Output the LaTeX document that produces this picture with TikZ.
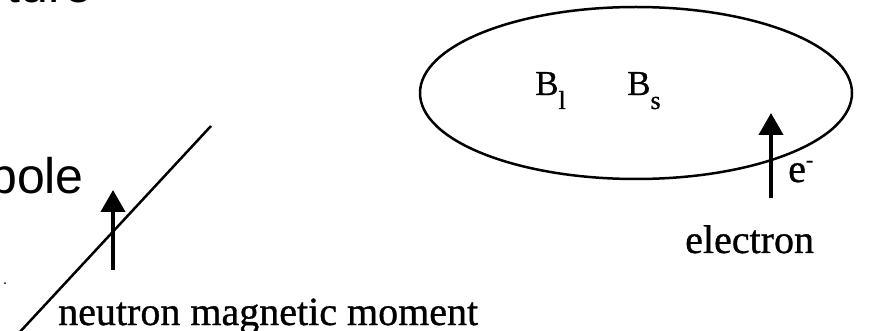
\documentclass[tikz,border=0pt]{standalone}
\usepackage{fontspec}
\setmainfont{Liberation Serif}[FakeBold=0.8]
\newfontfamily\arialf{Liberation Sans}
\usetikzlibrary{arrows.meta,shapes.geometric}
\begin{document}
\begin{tikzpicture}[x=1pt,y=-1pt,
  serif/.style={inner sep=0pt, font=\fontsize{40}{48}\selectfont},
  bigserif/.style={inner sep=0pt, font=\fontsize{35}{42}\selectfont},
  sans/.style={inner sep=0pt, font=\arialf\fontsize{50}{60}\selectfont},
  moment/.style={line width=4pt, -{Triangle[width=24pt,length=22pt]}},
  thinline/.style={line width=2.5pt}]
\useasboundingbox (0,0) rectangle (873,331);
\clip (0,0) rectangle (873,331);
\fill[white] (0,0) rectangle (873,331);
% sans-serif headline fragments
\node[sans, anchor=base east] (top) at (93,3) {ture};
\node[sans, anchor=base east] (pole) at (84,194) {dipole};
\fill (5,283) circle[radius=1pt];
% neutron
\coordinate (d1) at (18,334);
\coordinate (d2) at (211,126);
\draw[thinline] (d1) -- (d2);
\coordinate (n0) at (113,270);
\coordinate (n1) at (113,190);
\draw[moment] (n0) -- (n1);
\node[serif, anchor=base west] (nlabel) at (58,325) {neutron magnetic moment};
% electron orbit
\node[draw, thinline, ellipse, minimum width=432pt, minimum height=172pt, inner sep=0pt] (orbit) at (636,93) {};
\node[bigserif, anchor=base west] (bl) at (535,95) {B\raisebox{-14pt}{\fontsize{26}{30}\selectfont l}};
\node[bigserif, anchor=base west] (bs) at (627,95) {B\raisebox{-14pt}{\fontsize{26}{30}\selectfont s}};
\coordinate (e0) at (771,198);
\coordinate (e1) at (771,113);
\draw[moment] (e0) -- (e1);
\node[serif, anchor=base west] (el) at (788,182) {e\raisebox{15pt}{\fontsize{22}{26}\selectfont -}};
\node[serif, anchor=base west] (elabel) at (685,253) {electron};
\end{tikzpicture}
\end{document}
